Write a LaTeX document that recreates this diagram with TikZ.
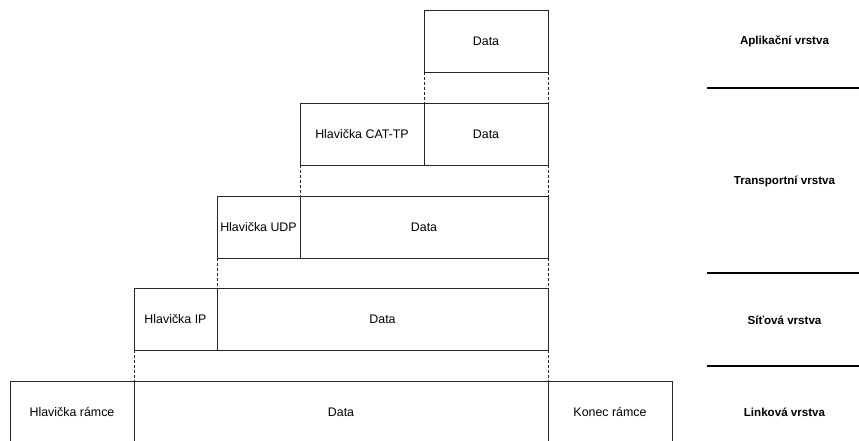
\documentclass[tikz,border=0pt]{standalone}
\usepackage{fontspec}
\setmainfont{Liberation Sans}
\begin{document}
\begin{tikzpicture}[x=1pt,y=-1pt,
  box/.style={draw=black!85, line width=0.8pt, rectangle, inner sep=0pt, outer sep=0pt,
    minimum height=62pt, font=\fontsize{12.4}{14}\selectfont},
  w124/.style={minimum width=124pt},
  w83/.style={minimum width=83pt},
  conn/.style={draw=black!85, line width=0.8pt, dash pattern=on 3pt off 2pt},
  sep/.style={draw=black, line width=2pt},
  layer/.style={font=\fontsize{11.6}{14}\selectfont\bfseries}]
\useasboundingbox (0,0) rectangle (859,440);
% row 1
\node[box,w124] (d1) at (486,41) {Data};
% row 2
\node[box,w124] (cat) at (362,134) {Hlavička CAT-TP};
\node[box,w124] (d2) at (486,134) {Data};
% row 3
\node[box,w83] (udp) at (258.5,227) {Hlavička UDP};
\node[box,minimum width=248pt] (d3) at (424,227) {Data};
% row 4
\node[box,w83] (ip) at (175.5,319) {Hlavička IP};
\node[box,minimum width=331pt] (d4) at (382.5,319) {Data};
% row 5
\node[box,w124] (fh) at (72,412) {Hlavička rámce};
\node[box,minimum width=414pt] (d5) at (341,412) {Data};
\node[box,w124] (ft) at (610,412) {Konec rámce};
% dashed connectors
\draw[conn] (d1.south west) -- (d2.north west);
\draw[conn] (d1.south east) -- (d2.north east);
\draw[conn] (cat.south west) -- (d3.north west);
\draw[conn] (d2.south east) -- (d3.north east);
\draw[conn] (udp.south west) -- (d4.north west);
\draw[conn] (d3.south east) -- (d4.north east);
\draw[conn] (ip.south west) -- (d5.north west);
\draw[conn] (d4.south east) -- (d5.north east);
% layer separators
\coordinate (s1a) at (707,88); \coordinate (s1b) at (859,88);
\coordinate (s2a) at (707,273); \coordinate (s2b) at (859,273);
\coordinate (s3a) at (707,366); \coordinate (s3b) at (859,366);
\draw[sep] (s1a) -- (s1b);
\draw[sep] (s2a) -- (s2b);
\draw[sep] (s3a) -- (s3b);
% layer labels
\node[layer] (l1) at (784.5,41) {Aplikační vrstva};
\node[layer] (l2) at (784.5,181) {Transportní vrstva};
\node[layer] (l3) at (784.5,320.5) {Síťová vrstva};
\node[layer] (l4) at (784.5,412) {Linková vrstva};
\end{tikzpicture}
\end{document}
